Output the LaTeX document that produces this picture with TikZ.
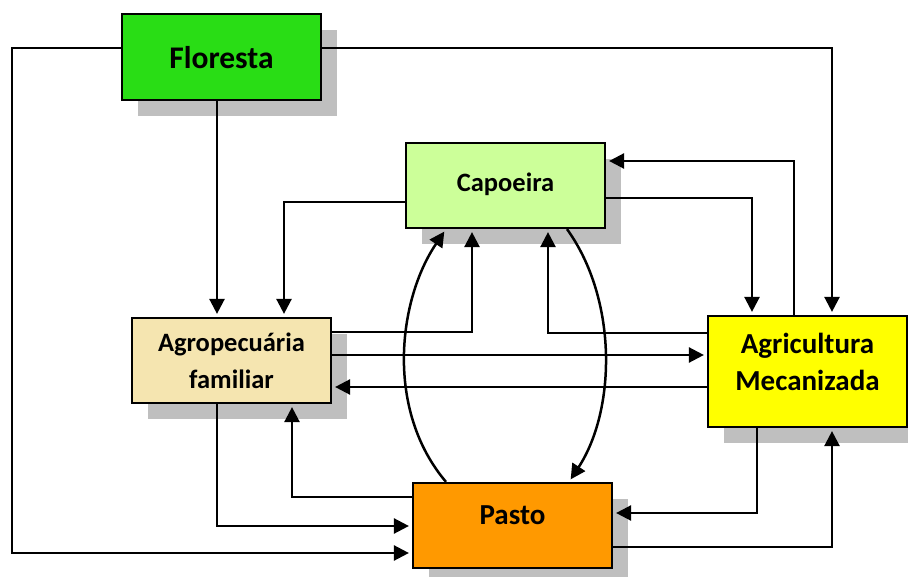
\documentclass[tikz,border=0pt]{standalone}
\usepackage{fontspec}
\setmainfont{Carlito}
\usetikzlibrary{arrows.meta}
\definecolor{florestagreen}{HTML}{29DD15}
\definecolor{capoeiragreen}{HTML}{CCFF99}
\definecolor{agrowheat}{HTML}{F5E5B0}
\definecolor{mecyellow}{HTML}{FFFF00}
\definecolor{pastoorange}{HTML}{FF9900}
\definecolor{shadowgray}{HTML}{BFBFBF}
\tikzset{
  box/.style={draw=black, line width=2.2pt, minimum width=199pt, inner sep=0pt},
  shade box/.style={fill=shadowgray, draw=none, minimum width=199pt, inner sep=0pt},
  lbl/.style={font=\bfseries, align=center, inner sep=0pt},
  conn/.style={line width=2.5pt, shorten >=3pt, -{Triangle[length=15pt,width=15pt]}},
}
\begin{document}
\begin{tikzpicture}[x=1pt, y=-1pt]
\useasboundingbox (0,0) rectangle (908,577);

% drop shadows
\node[shade box, minimum height=86pt] (sFlo) at (237.5,73) {};
\node[shade box, minimum height=85pt] (sCap) at (521.5,201.5) {};
\node[shade box, minimum height=85pt] (sAgro) at (247.5,376.5) {};
\node[shade box, minimum height=111pt] (sMec) at (823.5,387.5) {};
\node[shade box, minimum height=85pt] (sPas) at (528.5,541.5) {};

% boxes
\node[box, fill=florestagreen, minimum height=86pt] (flo) at (221.5,57) {};
\node[box, fill=capoeiragreen, minimum height=85pt] (cap) at (505.5,185.5) {};
\node[box, fill=agrowheat, minimum height=85pt] (agro) at (231.5,360.5) {};
\node[box, fill=mecyellow, minimum height=111pt] (mec) at (807.5,371.5) {};
\node[box, fill=pastoorange, minimum height=85pt] (pas) at (512.5,525.5) {};

% labels
\node[lbl, font=\bfseries\fontsize{31.5}{36}\selectfont] (tFlo) at (221.5,58) {Floresta};
\node[lbl, font=\bfseries\fontsize{26.5}{30}\selectfont] (tCap) at (505.5,184) {Capoeira};
\node[lbl, font=\bfseries\fontsize{26.5}{37}\selectfont] (tAgro) at (231.5,361) {Agropecuária\\familiar};
\node[lbl, font=\bfseries\fontsize{29}{37}\selectfont] (tMec) at (807.5,362) {Agricultura\\Mecanizada};
\node[lbl, font=\bfseries\fontsize{29}{34}\selectfont] (tPas) at (512.5,515) {Pasto};

% connectors
\coordinate (c1) at (12,48);
\coordinate (c2) at (12,553);
\draw[conn] (flo.west |- c1) -- (c1) -- (c2) -- (pas.west |- c2);

\coordinate (c3) at (832,48);
\draw[conn] (flo.east |- c3) -- (c3) -- (c3 |- mec.north);

\draw[conn] (flo.south -| 217,0) -- (agro.north -| 217,0);

\coordinate (c4) at (284,202);
\draw[conn] (cap.west |- c4) -- (c4) -- (c4 |- agro.north);

\coordinate (c5) at (752,198);
\draw[conn] (cap.east |- c5) -- (c5) -- (c5 |- mec.north);

\coordinate (c6) at (794,161);
\draw[conn] (c6 |- mec.north) -- (c6) -- (cap.east |- c6);

\coordinate (c7) at (472,332);
\draw[conn] (agro.east |- c7) -- (c7) -- (c7 |- cap.south);

\coordinate (c8) at (548,333);
\draw[conn] (mec.west |- c8) -- (c8) -- (c8 |- cap.south);

\draw[conn] (agro.east |- 0,355) -- (mec.west |- 0,355);
\draw[conn] (mec.west |- 0,387) -- (agro.east |- 0,387);

\coordinate (c9) at (217,526);
\draw[conn] (c9 |- agro.south) -- (c9) -- (pas.west |- c9);

\coordinate (c10) at (292,497);
\draw[conn] (pas.west |- c10) -- (c10) -- (c10 |- agro.south);

\coordinate (c11) at (757,513);
\draw[conn] (c11 |- mec.south) -- (c11) -- (pas.east |- c11);

\coordinate (c12) at (832,547);
\draw[conn] (pas.east |- c12) -- (c12) -- (c12 |- mec.south);

% curved links between Pasto and Capoeira
\draw[conn] (pas.north -| 446,0) .. controls (385,410) and (398,300) .. (cap.south -| 446,0);
\draw[conn] (cap.south -| 567,0) .. controls (618,300) and (616,410) .. (pas.north -| 569,0);
\end{tikzpicture}
\end{document}
